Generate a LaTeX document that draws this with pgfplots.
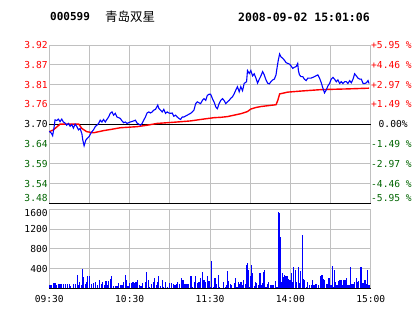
\documentclass[border=0pt]{standalone}
\usepackage{pgfplots}
\pgfplotsset{compat=1.18}
\usepackage{fontspec}
\newfontfamily\monoft{DejaVu Sans Mono}
\newfontfamily\cjk{Noto Sans CJK SC}
\definecolor{gridgray}{RGB}{192,192,192}
\definecolor{dgreen}{RGB}{0,100,0}
\definecolor{pred}{RGB}{255,0,0}
\definecolor{pblue}{RGB}{0,0,255}
\pgfplotsset{
  panel/.style={
    scale only axis, width=321.4pt, xmin=0, xmax=240,
    xtick={0,30,...,240},
    xmajorgrids, ymajorgrids,
    major grid style={gridgray, line width=1pt},
    axis line style={gridgray, line width=1pt},
    major tick length=0pt,
    clip=false,
    ticklabel style={font=\monoft\fontsize{9.6}{10}\selectfont, inner sep=0pt},
    yticklabel style={anchor=east, xshift=-1.5pt},
  }
}
\newcommand{\lab}[2]{\raisebox{#1}[7pt][0pt]{#2}}
\begin{document}
\begin{tikzpicture}
\useasboundingbox (0pt,0pt) rectangle (414pt,314pt);
\fill[white] (0pt,0pt) rectangle (414pt,314pt);
\node[anchor=west, inner sep=0pt, font=\monoft\bfseries\fontsize{11}{12}\selectfont] at (50pt,297pt) {000599};
\node[anchor=west, inner sep=0pt, font=\cjk\fontsize{12.5}{13}\selectfont] at (105pt,297pt) {青岛双星};
\node[anchor=west, inner sep=0pt, font=\monoft\bfseries\fontsize{11.5}{12}\selectfont] at (238pt,297pt) {2008-09-02 15:01:06};

% ---------- price panel ----------
\begin{axis}[panel, at={(49.3pt,110.7pt)}, anchor=south west, height=158.3pt,
  ymin=3.48, ymax=3.92,
  ytick={3.48,3.535,3.59,3.645,3.70,3.755,3.81,3.865,3.92},
  yticklabels={\lab{5pt}{\textcolor{dgreen}{3.48}},\textcolor{dgreen}{3.54},\textcolor{dgreen}{3.59},\textcolor{dgreen}{3.64},\textcolor{black}{3.70},\textcolor{pred}{3.76},\textcolor{pred}{3.81},\textcolor{pred}{3.87},\textcolor{pred}{3.92}},
  xticklabels={}]
\addplot[black, line width=1pt] coordinates {(0,3.70) (240,3.70)};
\addplot[black, line width=1pt] coordinates {(0,3.48) (240,3.48)};
% average price
\addplot[pred, line width=1.4pt] coordinates {
(0,3.679) (3,3.684) (6.8,3.696) (8,3.700) (22,3.700) (24.3,3.688) (28,3.679) (33,3.676) (36.8,3.679) (40.5,3.682) (45.5,3.685) (53,3.690) (65.5,3.693) (73,3.697) (80.5,3.702) (95.5,3.706) (105.5,3.709) (113,3.713) (123,3.718) (128,3.719) (133,3.721) (143,3.729) (148,3.735) (150.5,3.742) (154,3.746) (158,3.749) (169.3,3.754) (170.7,3.767) (172,3.784) (178,3.789) (188,3.792) (203,3.796) (223,3.798) (238.8,3.800)
};
% price
\addplot[pblue, line width=1.1pt] coordinates {
(0,3.680) (1.5,3.675) (2.5,3.668) (3.5,3.690) (4.3,3.712) (5.5,3.710) (6.8,3.714) (8,3.707) (9.3,3.714) (10.5,3.706) (11.8,3.703) (13,3.697) (14.3,3.702) (15.5,3.694) (16.8,3.699) (18,3.689) (19.3,3.700) (20.5,3.694) (21.8,3.684) (23,3.688) (24.3,3.674) (25,3.656) (26,3.640) (27.3,3.656) (28.5,3.661) (29.8,3.666) (30.5,3.671) (31.8,3.679) (33,3.684) (34.3,3.693) (35.5,3.697) (36.8,3.702) (38,3.711) (39.3,3.706) (40.5,3.713) (41.8,3.706) (43,3.713) (44.3,3.720) (45.5,3.730) (46.8,3.734) (48,3.725) (49.3,3.730) (50.5,3.720) (53,3.716) (54.3,3.709) (55.5,3.704) (56.8,3.706) (58,3.702) (60.5,3.706) (63,3.709) (64.3,3.711) (65.5,3.703) (66.8,3.700) (68,3.697) (69.3,3.702) (70.5,3.711) (71.8,3.720) (73,3.731) (74.3,3.734) (75.5,3.731) (76.8,3.734) (78,3.739) (79.3,3.741) (81,3.753) (81.8,3.744) (83,3.739) (84.3,3.734) (85.5,3.741) (86.8,3.730) (88,3.734) (89.3,3.731) (90.5,3.730) (91.8,3.731) (93,3.722) (94.3,3.725) (95.5,3.720) (96.8,3.716) (98,3.713) (99.3,3.720) (100.5,3.720) (103,3.725) (105.5,3.730) (106.8,3.734) (108,3.739) (109.3,3.757) (110.5,3.762) (113,3.757) (114.3,3.766) (115.5,3.771) (116.8,3.766) (118,3.780) (119.3,3.783) (120.5,3.783)
(121.8,3.771) (123,3.762) (124.3,3.748) (125.5,3.743) (126.8,3.757) (128,3.766) (129.3,3.771) (130.5,3.766) (131.8,3.757) (133,3.762) (134.3,3.766) (135.5,3.772) (136.8,3.776) (138,3.784) (139.3,3.795) (140.5,3.804) (141.8,3.790) (143,3.804) (144.3,3.793) (145.5,3.813) (147.3,3.818) (148,3.849) (149.3,3.841) (150.5,3.849) (151.8,3.834) (153,3.840) (154.3,3.828) (155.5,3.814) (156.8,3.825) (158,3.834) (159.3,3.846) (160.5,3.837) (161.8,3.823) (163,3.814) (164.3,3.812) (165.5,3.818) (166.8,3.823) (168,3.825) (169.3,3.837) (170,3.855) (171,3.878) (172,3.895) (173,3.887) (174.3,3.883) (175.5,3.878) (176.8,3.871) (178,3.869) (179.3,3.867) (180.5,3.862) (181.8,3.855) (183,3.858) (184.3,3.860) (185.5,3.869) (186,3.849) (186.8,3.837) (188,3.832) (189.3,3.832) (190.5,3.825) (191.8,3.821) (193,3.828) (195.5,3.828) (198,3.832) (200.5,3.837) (201.8,3.828) (203,3.816) (204.3,3.800) (205.5,3.787) (206.8,3.795) (208,3.806) (209.3,3.813) (210.5,3.825) (211.8,3.830) (213,3.825) (214.3,3.818) (215.5,3.823) (216.8,3.813) (218,3.818) (219.3,3.813) (220.5,3.818) (221.8,3.818) (223,3.813) (224.3,3.821) (225.5,3.815) (226.8,3.825) (228,3.840) (229.3,3.834) (230.5,3.828) (231.8,3.825) (233,3.825) (234.3,3.813) (235.5,3.813) (236.8,3.815) (238,3.821) (238.8,3.813)
};
\end{axis}

% ---------- right percentage labels ----------
\begin{axis}[scale only axis, width=321.4pt, height=158.3pt, at={(49.3pt,110.7pt)}, anchor=south west,
  xmin=0, xmax=240, ymin=3.48, ymax=3.92, axis line style={draw=none},
  xtick=\empty, major tick length=0pt,
  yticklabel pos=right,
  ytick={3.48,3.535,3.59,3.645,3.70,3.755,3.81,3.865,3.92},
  yticklabels={\lab{5pt}{\textcolor{dgreen}{-5.95 \%}},\textcolor{dgreen}{-4.46 \%},\textcolor{dgreen}{-2.97 \%},\textcolor{dgreen}{-1.49 \%},\hspace*{7.5pt}0.00\%,\textcolor{pred}{+1.49 \%},\textcolor{pred}{+2.97 \%},\textcolor{pred}{+4.46 \%},\textcolor{pred}{+5.95 \%}},
  yticklabel style={anchor=west, inner sep=0pt, xshift=0.3pt, font=\monoft\fontsize{9.6}{10}\selectfont}]
\end{axis}

% ---------- volume panel ----------
\begin{axis}[panel, at={(49.3pt,25.7pt)}, anchor=south west, height=79pt,
  ymin=0, ymax=1600,
  ytick={400,800,1200,1600},
  yticklabels={400,800,1200,\lab{-3.5pt}{1600}},
  xticklabels={09:30,,10:30,,11:30,,14:00,,15:00},
  xticklabel style={anchor=north, yshift=-6.4pt}]
\addplot[black, line width=1pt] coordinates {(0,0) (240,0)};
\addplot[ycomb, pblue, line width=1.2pt] coordinates {
(0.5,68) (1.8,68) (3.0,108) (4.3,108) (5.5,68) (6.8,88) (8.0,88) (9.3,88) (10.5,88) (12.3,81) (13.5,81) (14.8,81) (16.0,47) (18.0,81) (19.3,81) (20.8,270) (21.8,68) (22.5,122) (23.8,68) (24.8,392) (25.5,236) (26.8,88) (27.5,122) (28.5,250) (30.0,250) (31.8,81) (33.0,101) (34.3,122) (36.0,68) (37.5,169) (38.8,88) (40.0,135) (41.0,68) (42.3,149) (43.5,68) (44.3,149) (45.5,189) (46.5,250) (48.0,47) (49.3,47) (50.5,47) (51.8,101) (53.0,68) (54.3,68) (55.5,135) (56.8,270) (57.5,169) (58.8,47) (60.0,101) (61.3,101) (62.5,122) (63.8,101) (64.8,122) (66.0,169) (67.3,68) (68.5,47) (69.8,101) (71.8,122) (72.8,338) (73.8,169) (75.0,34) (76.3,81) (77.8,122) (78.5,216) (79.8,68) (81.0,135) (81.8,257) (83.0,47) (84.3,169) (85.5,34) (87.0,122) (88.0,34) (90.0,101) (91.0,101) (92.5,81) (93.8,68) (95.0,81) (96.0,122) (97.3,95) (98.8,203) (99.8,162) (101.3,81) (102.3,81) (103.5,81) (105.8,250) (106.8,34) (108.3,122) (109.3,250) (110.5,101) (111.8,135) (113.0,216) (114.3,338) (115.5,169) (116.8,135) (118.3,250) (119.3,149)
(120.0,34) (121.3,553) (122.6,34) (123.8,203) (124.8,88) (126.1,270) (127.3,34) (129.8,122) (131.3,34) (132.3,68) (133.1,351) (133.8,149) (135.1,81) (136.3,68) (138.1,101) (138.8,203) (140.1,34) (141.1,135) (141.8,88) (143.1,135) (144.3,68) (145.1,169) (146.3,81) (147.1,473) (147.8,506) (148.6,371) (149.3,34) (150.1,250) (150.8,473) (151.6,304) (153.1,47) (153.8,135) (154.8,101) (156.3,68) (157.3,304) (158.1,68) (159.3,101) (160.1,338) (160.8,371) (161.8,34) (163.1,81) (163.8,122) (165.1,68) (166.3,68) (167.6,68) (168.8,149) (170.1,34) (171.1,1539) (171.8,1526) (172.6,1033) (173.3,122) (174.1,304) (174.8,236) (175.6,270) (176.8,250) (177.6,250) (178.6,189) (179.8,169) (180.8,304) (181.6,122) (182.6,439) (183.6,371) (184.6,122) (185.8,432) (186.8,101) (187.6,351) (189.1,1080) (189.8,189) (190.8,169) (191.8,34) (193.1,122) (194.3,68) (195.6,68) (196.6,169) (197.6,68) (198.6,81) (199.6,81) (201.1,68) (202.6,250) (203.6,270) (204.6,189) (205.6,169) (206.8,81) (207.8,81) (208.8,216) (210.1,68) (210.8,68) (211.6,452) (212.3,34) (213.1,371) (213.8,122) (214.8,68) (215.8,149) (216.8,169) (217.8,169) (218.8,68) (219.8,169) (220.8,169) (221.8,216) (223.1,68) (224.3,68) (225.1,439) (226.1,81) (227.1,81) (228.1,135) (229.1,216) (230.1,122) (231.1,149) (232.1,189) (232.8,439) (233.8,101) (234.8,101) (235.8,169) (236.8,81) (237.8,371) (238.8,68)
};
\end{axis}
\end{tikzpicture}
\end{document}
